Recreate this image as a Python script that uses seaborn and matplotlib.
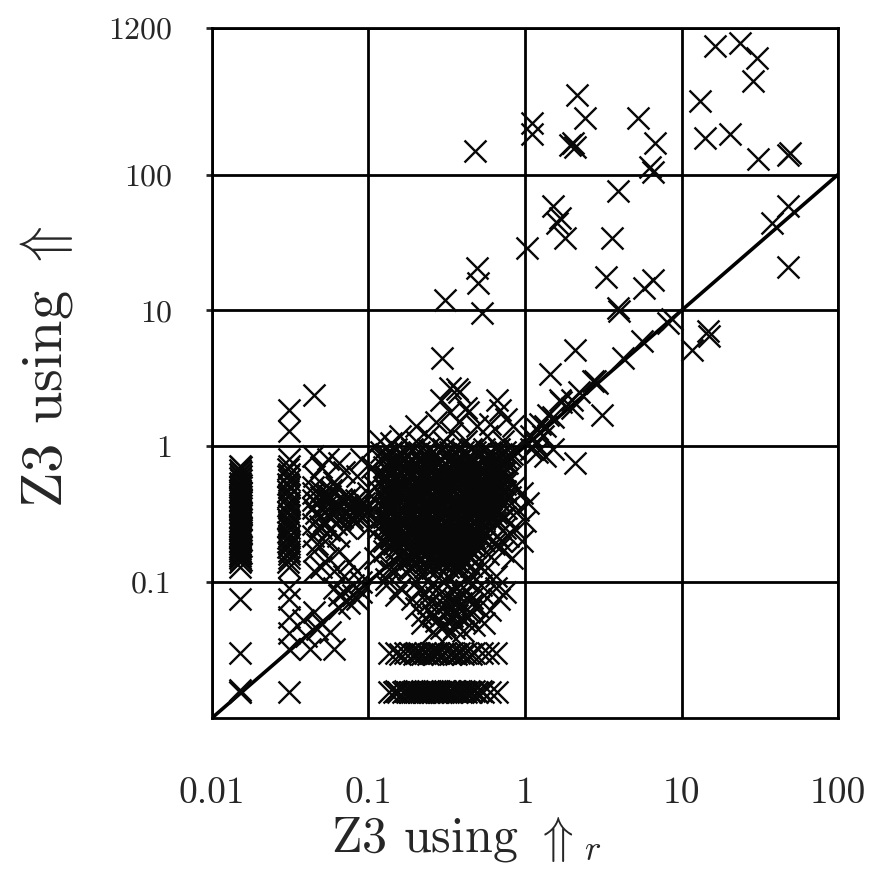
import numpy as np
import pandas as pd
import matplotlib
matplotlib.use("Agg")
import matplotlib.pyplot as plt
import seaborn as sns
from matplotlib.ticker import FixedLocator, FixedFormatter, NullLocator

# dense block of runs, both solvers below 1 s (one row per y level)
blob_levels = [0.95, 0.87, 0.78, 0.7, 0.63, 0.56, 0.5, 0.45, 0.4, 0.36,
               0.32, 0.29, 0.26, 0.23, 0.21, 0.19, 0.17, 0.155, 0.14]
blob_rows = [
    [0.15, 0.19, 0.24, 0.3, 0.37, 0.45, 0.55, 0.68, 0.85],
    [0.13, 0.16, 0.2, 0.23, 0.27, 0.31, 0.36, 0.42, 0.5, 0.58, 0.7, 0.82],
    [0.14, 0.165, 0.19, 0.215, 0.245, 0.28, 0.32, 0.365, 0.41, 0.47, 0.54, 0.62, 0.72],
    [0.135, 0.15, 0.17, 0.19, 0.21, 0.235, 0.26, 0.29, 0.32, 0.355, 0.39, 0.43, 0.48, 0.53, 0.59, 0.66],
    [0.14, 0.155, 0.175, 0.195, 0.22, 0.24, 0.27, 0.3, 0.33, 0.37, 0.41, 0.45, 0.5, 0.56, 0.63, 0.7],
    [0.13, 0.145, 0.16, 0.18, 0.2, 0.225, 0.25, 0.28, 0.31, 0.34, 0.38, 0.42, 0.47, 0.52, 0.58, 0.65],
    [0.135, 0.15, 0.17, 0.19, 0.21, 0.23, 0.26, 0.29, 0.32, 0.36, 0.4, 0.44, 0.49, 0.55, 0.61, 0.68],
    [0.14, 0.155, 0.175, 0.195, 0.215, 0.24, 0.27, 0.3, 0.33, 0.37, 0.41, 0.46, 0.51, 0.57, 0.64],
    [0.13, 0.145, 0.165, 0.185, 0.205, 0.23, 0.255, 0.28, 0.31, 0.35, 0.39, 0.43, 0.48, 0.53, 0.6, 0.67],
    [0.135, 0.15, 0.17, 0.19, 0.21, 0.235, 0.26, 0.29, 0.32, 0.36, 0.4, 0.45, 0.5, 0.56, 0.62],
    [0.14, 0.155, 0.175, 0.195, 0.22, 0.245, 0.27, 0.3, 0.34, 0.38, 0.42, 0.47, 0.52, 0.58, 0.65],
    [0.135, 0.15, 0.165, 0.185, 0.205, 0.23, 0.255, 0.285, 0.32, 0.35, 0.39, 0.44, 0.49, 0.55, 0.61],
    [0.14, 0.155, 0.175, 0.195, 0.215, 0.24, 0.265, 0.3, 0.33, 0.37, 0.41, 0.46, 0.51, 0.57],
    [0.135, 0.15, 0.17, 0.19, 0.21, 0.235, 0.26, 0.29, 0.32, 0.36, 0.4, 0.44, 0.49, 0.55],
    [0.14, 0.16, 0.18, 0.2, 0.225, 0.25, 0.28, 0.31, 0.34, 0.38, 0.43, 0.48, 0.53],
    [0.145, 0.165, 0.185, 0.21, 0.235, 0.26, 0.29, 0.32, 0.36, 0.4, 0.45, 0.5],
    [0.15, 0.17, 0.19, 0.215, 0.24, 0.27, 0.3, 0.335, 0.37, 0.41, 0.46],
    [0.16, 0.18, 0.2, 0.225, 0.25, 0.28, 0.31, 0.35, 0.39, 0.43],
    [0.17, 0.2, 0.23, 0.26, 0.29, 0.33, 0.37, 0.41],
]

# shifted rows filling the block between the levels above
core_levels = [0.91, 0.82, 0.74, 0.66, 0.6, 0.53, 0.47, 0.42, 0.38, 0.34,
               0.305, 0.275, 0.245, 0.22, 0.2, 0.18, 0.162, 0.148]
core_rows = [
    [0.14, 0.17, 0.21, 0.26, 0.33, 0.4, 0.48, 0.6, 0.74],
    [0.145, 0.17, 0.21, 0.26, 0.33, 0.39, 0.46, 0.56, 0.66, 0.76],
    [0.13, 0.155, 0.18, 0.22, 0.275, 0.34, 0.4, 0.5, 0.6, 0.7],
    [0.135, 0.16, 0.2, 0.25, 0.31, 0.38, 0.44, 0.53, 0.6, 0.72],
    [0.13, 0.15, 0.185, 0.23, 0.28, 0.35, 0.43, 0.51, 0.6, 0.7],
    [0.14, 0.165, 0.21, 0.26, 0.32, 0.39, 0.46, 0.55, 0.66, 0.74],
    [0.13, 0.145, 0.18, 0.225, 0.28, 0.35, 0.43, 0.53, 0.61, 0.71],
    [0.135, 0.16, 0.2, 0.25, 0.31, 0.38, 0.46, 0.56, 0.66],
    [0.13, 0.15, 0.185, 0.23, 0.285, 0.35, 0.42, 0.51, 0.6, 0.7],
    [0.14, 0.165, 0.205, 0.255, 0.32, 0.39, 0.48, 0.56, 0.66],
    [0.13, 0.15, 0.19, 0.235, 0.29, 0.36, 0.44, 0.53, 0.62],
    [0.14, 0.16, 0.2, 0.245, 0.31, 0.38, 0.47, 0.54, 0.64],
    [0.135, 0.155, 0.19, 0.235, 0.29, 0.36, 0.43, 0.52, 0.6],
    [0.14, 0.165, 0.2, 0.245, 0.3, 0.37, 0.45, 0.52],
    [0.145, 0.17, 0.215, 0.27, 0.33, 0.4, 0.47, 0.55],
    [0.15, 0.18, 0.225, 0.28, 0.34, 0.42, 0.48],
    [0.16, 0.19, 0.235, 0.295, 0.36, 0.42, 0.47],
    [0.165, 0.185, 0.215, 0.245, 0.275, 0.31, 0.35, 0.4],
]

# ring of runs around the edge of the block
edge_x = [0.125, 0.127, 0.125, 0.128, 0.126, 0.125, 0.127, 0.126, 0.128,
          0.7, 0.74, 0.72, 0.76, 0.73, 0.75, 0.71, 0.74, 0.77, 0.8,
          0.14, 0.16, 0.19, 0.23, 0.27, 0.32, 0.38, 0.45, 0.52,
          0.12, 0.125, 0.58, 0.63, 0.66, 0.69]
edge_y = [0.2, 0.25, 0.3, 0.35, 0.42, 0.5, 0.6, 0.7, 0.8,
          0.2, 0.25, 0.3, 0.35, 0.4, 0.47, 0.55, 0.65, 0.75, 0.85,
          0.13, 0.132, 0.128, 0.13, 0.133, 0.13, 0.128, 0.132, 0.13,
          0.9, 0.17, 0.16, 0.19, 0.22, 0.18]

# vertical columns of runs at 0.015 s and 0.03 s for the reference solver
col015_y = [0.14, 0.15, 0.155, 0.16, 0.17, 0.175, 0.18, 0.19, 0.2, 0.21, 0.215,
            0.23, 0.245, 0.26, 0.27, 0.28, 0.3, 0.32, 0.34, 0.36, 0.37, 0.4,
            0.42, 0.43, 0.46, 0.48, 0.5, 0.54, 0.58, 0.62, 0.67, 0.72,
            0.13, 0.075, 0.03, 0.0155, 0.0155, 0.016]
col015b_y = [0.145, 0.165, 0.185, 0.205, 0.225, 0.24, 0.255, 0.29, 0.31, 0.33,
             0.35, 0.39, 0.41, 0.45, 0.52, 0.56, 0.6, 0.65, 0.7]
col03_y = [0.13, 0.15, 0.16, 0.17, 0.19, 0.2, 0.22, 0.25, 0.27, 0.28, 0.31,
           0.35, 0.37, 0.39, 0.44, 0.5, 0.56, 0.63, 0.72, 0.8, 1.3, 1.85,
           0.09, 0.075, 0.055, 0.042, 0.032, 0.0155]
col03b_y = [0.14, 0.18, 0.21, 0.235, 0.26, 0.29, 0.33, 0.42, 0.47, 0.53, 0.6, 0.68]

# horizontal bands at 0.03 s and 0.0155 s
band03_x = [0.135, 0.15, 0.17, 0.185, 0.2, 0.21, 0.23, 0.25, 0.27, 0.28, 0.31,
            0.34, 0.38, 0.42, 0.47, 0.53, 0.58, 0.65]
band03b_x = [0.16, 0.195, 0.22, 0.24, 0.26, 0.295, 0.33, 0.36, 0.4, 0.45]
band015_x = [0.135, 0.145, 0.155, 0.165, 0.175, 0.185, 0.19, 0.2, 0.21, 0.215,
             0.225, 0.23, 0.245, 0.26, 0.27, 0.28, 0.29, 0.3, 0.32, 0.34, 0.365,
             0.39, 0.42, 0.45, 0.49, 0.54, 0.6, 0.66]
band015b_x = [0.15, 0.17, 0.195, 0.22, 0.24, 0.255, 0.275, 0.31, 0.33, 0.355,
              0.38, 0.41, 0.44, 0.47, 0.52]

# remaining scattered runs
other_x = [
    # x 0.04-0.12, y 0.1-1
    0.044, 0.055, 0.065, 0.05, 0.07, 0.085, 0.06, 0.045, 0.09,
    0.044, 0.05, 0.055, 0.06, 0.065, 0.07, 0.075, 0.08, 0.085, 0.09, 0.095, 0.1,
    0.044, 0.048, 0.052, 0.058, 0.062, 0.068, 0.044, 0.05, 0.056, 0.064, 0.072,
    0.08, 0.09, 0.044, 0.05, 0.058, 0.062, 0.044, 0.044, 0.047, 0.053,
    0.045, 0.055, 0.065, 0.075, 0.06, 0.05, 0.085, 0.07, 0.045,
    0.1, 0.11, 0.115, 0.105, 0.12, 0.11, 0.12, 0.115, 0.1, 0.12, 0.11,
    0.047, 0.053, 0.057, 0.063, 0.067, 0.073, 0.078, 0.083, 0.088, 0.093,
    0.046, 0.052, 0.06, 0.066, 0.072, 0.078, 0.086, 0.094, 0.049, 0.055,
    # x 0.01-0.1, y 0.01-0.1
    0.038, 0.047, 0.057, 0.06, 0.042, 0.04, 0.05, 0.065, 0.08, 0.09,
    0.06, 0.07, 0.08, 0.085, 0.075, 0.09, 0.065, 0.045,
    # x 0.01-0.1, y > 1
    0.045,
    # below the dense block
    0.13, 0.16, 0.2, 0.25, 0.3, 0.36, 0.43, 0.52, 0.65, 0.75,
    0.15, 0.19, 0.23, 0.27, 0.31, 0.35, 0.4, 0.46, 0.55, 0.68,
    0.2, 0.25, 0.29, 0.33, 0.38, 0.44, 0.5, 0.6,
    0.22, 0.27, 0.31, 0.36, 0.41, 0.47, 0.55, 0.26, 0.33, 0.4,
    0.14, 0.18, 0.22, 0.27, 0.32, 0.38, 0.45, 0.55, 0.65, 0.13,
    0.21, 0.24, 0.28, 0.32, 0.35, 0.39, 0.42, 0.46,
    0.22, 0.26, 0.3, 0.34, 0.37, 0.43, 0.29, 0.35,
    # right fringe of the block
    0.78, 0.85, 0.95, 0.8, 1.05, 0.9, 0.75, 1.0, 0.85, 0.78, 0.95, 0.72, 0.82,
    # just above 1 s
    0.33, 0.38, 0.66, 0.29, 0.42, 0.33, 0.69, 0.76, 0.2, 0.27, 0.38, 0.49, 0.6,
    0.84, 0.16, 0.24, 0.34, 0.57, 0.118, 0.14, 0.2, 0.3, 0.42, 0.72,
    0.295, 0.37, 0.43,
    # around the diagonal near 1 s
    1.1, 1.2, 1.35, 1.5, 1.7, 2.0, 2.2, 2.8, 1.15, 1.3, 1.25, 1.4,
    1.2, 1.35, 2.1, 1.1, 1.5,
    # slower runs
    0.31, 0.53, 0.49, 0.5, 0.48,
    2.1, 1.44, 4.2, 5.6, 8.7, 2.9, 3.1, 2.0, 1.67, 4.0, 8.2, 2.7,
    14.7, 11.6, 15.0,
    3.93, 1.51, 1.67, 1.6, 1.8, 1.03, 3.6, 3.3, 5.8, 6.6, 3.9,
    2.15, 2.4, 1.11, 1.11, 2.03, 1.95, 2.1, 5.27, 6.8, 6.3, 6.6,
    48.0, 38.0, 48.0,
    16.4, 23.6, 30.4, 28.5, 13.1, 14.1, 20.3, 30.8, 49.0, 48.0,
]
other_y = [
    0.85, 0.8, 0.75, 0.7, 0.65, 0.6, 0.55, 0.6, 0.8,
    0.45, 0.42, 0.4, 0.38, 0.36, 0.4, 0.42, 0.38, 0.35, 0.4, 0.36, 0.33,
    0.35, 0.3, 0.33, 0.3, 0.27, 0.3, 0.27, 0.25, 0.24, 0.22, 0.25,
    0.28, 0.3, 0.5, 0.47, 0.48, 0.5, 0.4, 0.22, 0.19, 0.2,
    0.17, 0.15, 0.17, 0.14, 0.12, 0.13, 0.12, 0.11, 0.12,
    0.45, 0.5, 0.6, 0.7, 0.8, 0.4, 0.3, 0.25, 0.25, 0.2, 0.15,
    0.38, 0.36, 0.43, 0.34, 0.41, 0.37, 0.33, 0.4, 0.37, 0.34,
    0.32, 0.28, 0.35, 0.29, 0.33, 0.3, 0.32, 0.38, 0.26, 0.44,
    0.053, 0.045, 0.043, 0.032, 0.032, 0.04, 0.05, 0.065, 0.08, 0.085,
    0.09, 0.085, 0.095, 0.075, 0.07, 0.1, 0.08, 0.06,
    2.4,
    0.095, 0.09, 0.1, 0.095, 0.1, 0.092, 0.1, 0.095, 0.09, 0.085,
    0.08, 0.075, 0.082, 0.078, 0.08, 0.074, 0.08, 0.076, 0.08, 0.075,
    0.065, 0.06, 0.066, 0.062, 0.065, 0.06, 0.066, 0.062,
    0.05, 0.052, 0.048, 0.05, 0.053, 0.048, 0.05, 0.043, 0.042, 0.044,
    0.12, 0.125, 0.115, 0.12, 0.11, 0.12, 0.115, 0.12, 0.11, 0.105,
    0.088, 0.07, 0.09, 0.07, 0.086, 0.07, 0.088, 0.069,
    0.057, 0.056, 0.058, 0.056, 0.057, 0.055, 0.046, 0.046,
    0.58, 0.5, 0.45, 0.42, 0.38, 0.34, 0.3, 0.28, 0.25, 0.22, 0.2, 0.17, 0.15,
    2.7, 2.5, 2.2, 2.2, 1.9, 1.8, 1.85, 1.6, 1.4, 1.5, 1.5, 1.4, 1.45,
    1.4, 1.2, 1.2, 1.25, 1.2, 1.1, 1.05, 1.1, 1.1, 1.1, 1.1,
    4.5, 2.65, 1.8,
    1.2, 1.35, 1.4, 1.65, 2.1, 1.9, 2.5, 3.0, 1.05, 1.2, 1.47, 1.7,
    0.9, 0.85, 0.75, 0.95, 0.95,
    11.9, 9.5, 20.4, 16.0, 150.0,
    5.1, 3.4, 4.5, 6.0, 8.7, 2.9, 1.7, 2.2, 2.2, 9.9, 8.1, 3.0,
    7.1, 5.1, 6.5,
    76.0, 59.0, 48.0, 44.0, 34.0, 29.0, 34.0, 17.5, 14.5, 16.7, 10.5,
    382.0, 263.0, 241.0, 200.0, 172.0, 165.0, 160.0, 263.0, 170.0, 113.0, 104.0,
    59.0, 44.0, 20.7,
    889.0, 934.0, 725.0, 491.0, 350.0, 187.0, 200.0, 131.0, 145.0, 140.0,
]

x_ticks = [0.01, 0.1, 1, 10, 100]
x_labels = ["0.01", "0.1", "1", "10", "100"]
y_ticks = [0.1, 1, 10, 100, 1200]
y_labels = ["0.1", "1", "10", "100", "1200"]

# assemble one table of (x, y) points
xs, ys = [], []
for lvl, row in zip(blob_levels + core_levels, blob_rows + core_rows):
    xs += row
    ys += [lvl] * len(row)
xs += edge_x
ys += edge_y
xs += [0.015] * len(col015_y) + [0.0153] * len(col015b_y)
ys += col015_y + col015b_y
xs += [0.031] * len(col03_y) + [0.0305] * len(col03b_y)
ys += col03_y + col03b_y
xs += band03_x + band03b_x
ys += [0.0303] * len(band03_x) + [0.0298] * len(band03b_x)
xs += band015_x + band015b_x
ys += [0.0155] * len(band015_x) + [0.0159] * len(band015b_x)
xs += other_x
ys += other_y
df = pd.DataFrame({"ref": xs, "z3": ys})

sns.set_style("white")
plt.rcParams["font.family"] = ["cmr10", "DejaVu Serif"]
plt.rcParams["mathtext.fontset"] = "cm"
plt.rcParams["axes.formatter.use_mathtext"] = True

fig = plt.figure(figsize=(8.84, 8.90), dpi=100)
ax = fig.add_axes([0.2398, 0.1933, 0.7082, 0.7753])

# diagonal y = x under the markers
sns.lineplot(x=[0.01, 100], y=[0.01, 100], color="black", linewidth=2.6,
             ax=ax, zorder=2)
sns.scatterplot(data=df, x="ref", y="z3", marker="x", s=250, linewidth=1.7,
                color="#080808", ax=ax, zorder=3)

ax.set_xscale("log")
ax.set_yscale("log")
ax.set_xlim(0.01, 100)
ax.set_ylim(0.01, 1200)

ax.xaxis.set_major_locator(FixedLocator(x_ticks))
ax.xaxis.set_major_formatter(FixedFormatter(x_labels))
ax.yaxis.set_major_locator(FixedLocator(y_ticks))
ax.yaxis.set_major_formatter(FixedFormatter(y_labels))
ax.xaxis.set_minor_locator(NullLocator())
ax.yaxis.set_minor_locator(NullLocator())

ax.grid(True, color="black", linewidth=2.0)
for sp in ax.spines.values():
    sp.set_color("black")
    sp.set_linewidth(2.0)

ax.tick_params(axis="x", length=0, pad=42, labelsize=27)
ax.tick_params(axis="y", length=4, width=2.0, direction="out", pad=25,
               labelsize=23, left=True)

ax.set_xlabel(r"Z3 using $\Uparrow_r$", fontsize=36)
ax.set_ylabel(r"Z3 using $\Uparrow$", fontsize=42)
ax.xaxis.set_label_coords(0.406, -0.14)
ax.yaxis.set_label_coords(-0.219, 0.509)

fig.savefig("out.png", dpi=100)
